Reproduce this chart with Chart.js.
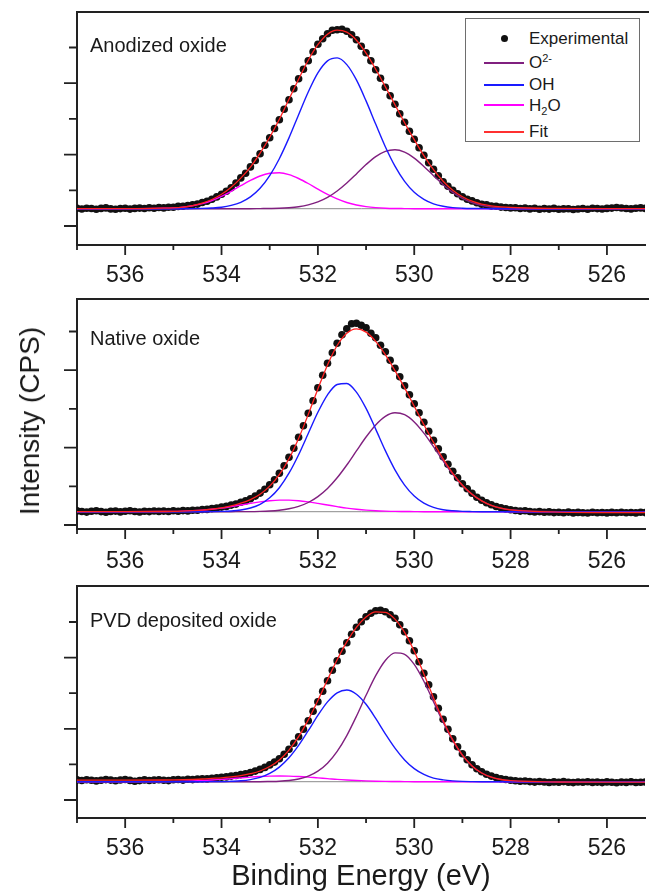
<!DOCTYPE html>
<html>
<head>
<meta charset="utf-8">
<title>O 1s XPS</title>
<script src="https://cdn.jsdelivr.net/npm/chart.js@4.4.0/dist/chart.umd.min.js"></script>
<style>
  body { margin: 0; background: #fff; }
  #wrap { position: relative; width: 649px; height: 893px; overflow: hidden; font-family: "Liberation Sans", Arial, sans-serif; color: #1a1a1a; }
  #wrap canvas { position: absolute; left: 0; }
  #ytitle { position: absolute; left: 30px; top: 421px; transform: translate(-50%, -50%) rotate(-90deg); font-size: 28px; white-space: nowrap; }
  #legendBox { position: absolute; left: 465px; top: 18px; width: 175px; height: 124px; box-sizing: border-box; border: 1.5px solid #6e6e6e; background: #fff; }
  .swatch { position: absolute; left: 484px; width: 40px; height: 1.6px; }
  .dot { position: absolute; left: 501px; top: 35px; width: 7px; height: 7px; border-radius: 50%; background: #111; }
  .ltext { position: absolute; left: 529px; height: 20px; line-height: 20px; font-size: 17px; white-space: nowrap; }
  .ltext sup { font-size: 11px; vertical-align: 6px; line-height: 0; }
  .ltext sub { font-size: 11px; vertical-align: -4px; line-height: 0; }
</style>
</head>
<body>
<div id="wrap">
  <canvas id="anodized" width="649" height="295" style="top:0px"></canvas>
  <canvas id="native" width="649" height="284" style="top:295px"></canvas>
  <canvas id="pvd" width="649" height="314" style="top:579px"></canvas>
  <div id="ytitle">Intensity (CPS)</div>
  <div id="legendBox"></div>
  <div class="dot"></div>
  <div class="ltext" style="top:29px">Experimental</div>
  <div class="swatch" style="top:62px;background:#80207f"></div>
  <div class="ltext" style="top:53px">O<sup>2-</sup></div>
  <div class="swatch" style="top:84px;background:#1a1aff"></div>
  <div class="ltext" style="top:75px">OH</div>
  <div class="swatch" style="top:104px;background:#ff00ff"></div>
  <div class="ltext" style="top:96px">H<sub>2</sub>O</div>
  <div class="swatch" style="top:131px;background:#ff3030"></div>
  <div class="ltext" style="top:122px">Fit</div>
</div>
<script>
// energies (eV) where the fitted envelope and the components are tabulated
const gridEV = [537, 536, 535.2, 535.0, 534.8, 534.6, 534.4, 534.2, 534.0, 533.8, 533.6, 533.4, 533.2, 533.0,
  532.8, 532.6, 532.4, 532.2, 532.0, 531.8, 531.6, 531.4, 531.2, 531.0, 530.8, 530.6, 530.4, 530.2, 530.0,
  529.8, 529.6, 529.4, 529.2, 529.0, 528.8, 528.6, 528.4, 528.2, 528.0, 527, 526, 525];

const xMajor = [536, 534, 532, 530, 528, 526];
const xMinor = [537, 535, 533, 531, 529, 527, 525];

// ---- anodized oxide ----
const anodizedExp = [
  3680, 3600, 3670, 3650, 3580, 3660, 3710, 3610, 3570, 3640,
  3680, 3590, 3660, 3690, 3650, 3720, 3680, 3750, 3710, 3770,
  3780, 3860, 3870, 3950, 4030, 4090, 4250, 4370, 4580, 4810,
  5080, 5380, 5730, 6190, 6710, 7170, 7810, 8450, 9130, 9970,
  10730, 11650, 12530, 13580, 14530, 15630, 16630, 17580, 18430, 19330,
  20080, 20630, 21130, 21480, 21530, 21580, 21380, 21030, 20530, 19880,
  19230, 18430, 17530, 16680, 15780, 14930, 14080, 13130, 12280, 11380,
  10580, 9730, 8980, 8230, 7580, 6930, 6330, 5880, 5480, 5130,
  4830, 4580, 4410, 4230, 4070, 4010, 3890, 3880, 3790, 3750,
  3710, 3730, 3650, 3690, 3610, 3670, 3580, 3640, 3590, 3660,
  3570, 3610, 3630, 3550, 3600, 3650, 3580, 3670, 3640, 3600,
  3660, 3690, 3750, 3700, 3650, 3610, 3670, 3710, 3660
];
const anodizedFit = [3630, 3630, 3680, 3710, 3790, 3940, 4190, 4550, 5070, 5780, 6690, 7780, 9180, 10780,
  12580, 14580, 16580, 18480, 20030, 21080, 21480, 21280, 20480, 19180, 17580, 15830, 14030, 12230, 10530,
  8930, 7530, 6380, 5480, 4830, 4380, 4080, 3910, 3810, 3750, 3660, 3630, 3630];
const anodizedO2 = [3630, 3630, 3630, 3630, 3630, 3630, 3630, 3630, 3630, 3630, 3630, 3630, 3640, 3650,
  3670, 3730, 3830, 4010, 4310, 4760, 5400, 6200, 7110, 8040, 8840, 9370, 9530, 9290, 8690,
  7860, 6930, 6030, 5260, 4660, 4240, 3970, 3800, 3710, 3670, 3630, 3630, 3630];
const anodizedOH = [3630, 3630, 3630, 3630, 3630, 3640, 3660, 3700, 3780, 3960, 4270, 4810, 5670, 6940,
  8630, 10710, 13030, 15300, 17210, 18410, 18710, 18040, 16510, 14410, 12090, 9830, 7890, 6370, 5280,
  4570, 4120, 3870, 3740, 3680, 3650, 3640, 3630, 3630, 3630, 3630, 3630, 3630];
const anodizedH2O = [3630, 3630, 3670, 3710, 3790, 3930, 4140, 4450, 4870, 5370, 5930, 6460, 6900, 7170,
  7220, 7040, 6650, 6150, 5590, 5060, 4610, 4250, 4000, 3840, 3740, 3680, 3650, 3640, 3630,
  3630, 3630, 3630, 3630, 3630, 3630, 3630, 3630, 3630, 3630, 3630, 3630, 3630];
const anodizedBg = [3630, 3630];
const anodizedYTicks = [1900, 5470, 9040, 12610, 16180, 19750];

// ---- native oxide ----
const nativeExp = [
  1810, 1750, 1690, 1780, 1820, 1740, 1680, 1760, 1790, 1710,
  1770, 1820, 1750, 1700, 1780, 1740, 1800, 1760, 1790, 1750,
  1820, 1780, 1840, 1810, 1880, 1870, 1950, 1960, 2040, 2090,
  2190, 2260, 2390, 2490, 2670, 2810, 3030, 3290, 3590, 3980,
  4430, 4930, 5580, 6330, 7180, 8080, 9180, 10330, 11580, 12830,
  14130, 15380, 16580, 17630, 18580, 19430, 20030, 20530, 20580, 20380,
  20130, 19580, 19130, 18380, 17730, 16880, 16080, 15230, 14330, 13430,
  12530, 11630, 10680, 9780, 8880, 8030, 7230, 6480, 5780, 5130,
  4530, 4030, 3580, 3180, 2880, 2630, 2430, 2250, 2130, 2010,
  1930, 1850, 1790, 1820, 1750, 1700, 1740, 1670, 1710, 1640,
  1680, 1630, 1690, 1610, 1660, 1630, 1600, 1670, 1620, 1650,
  1610, 1660, 1630, 1680, 1620, 1650, 1610, 1670, 1640
];
const nativeFit = [1730, 1730, 1750, 1760, 1790, 1830, 1890, 1990, 2120, 2310, 2580, 2940, 3480, 4290,
  5440, 7030, 9060, 11450, 14010, 16410, 18350, 19580, 20020, 19690, 18770, 17440, 15840, 14110, 12280,
  10440, 8660, 7010, 5570, 4380, 3470, 2810, 2360, 2080, 1920, 1690, 1650, 1650];
const nativeO2 = [1730, 1730, 1730, 1730, 1730, 1730, 1730, 1730, 1730, 1730, 1740, 1740, 1760, 1800,
  1880, 2020, 2260, 2650, 3240, 4050, 5120, 6400, 7810, 9200, 10410, 11270, 11620, 11430, 10710,
  9590, 8230, 6810, 5480, 4350, 3460, 2810, 2360, 2080, 1920, 1730, 1730, 1730];
const nativeOH = [1730, 1730, 1730, 1730, 1730, 1730, 1730, 1740, 1760, 1800, 1900, 2100, 2470, 3120,
  4130, 5580, 7430, 9550, 11670, 13420, 14450, 14550, 13690, 12060, 9990, 7840, 5920, 4390, 3290,
  2580, 2160, 1930, 1820, 1760, 1740, 1730, 1730, 1730, 1730, 1730, 1730, 1730];
const nativeH2O = [1730, 1730, 1750, 1760, 1790, 1830, 1890, 1980, 2090, 2240, 2400, 2560, 2710, 2830,
  2890, 2890, 2830, 2710, 2560, 2400, 2240, 2090, 1980, 1890, 1830, 1790, 1760, 1750, 1740,
  1730, 1730, 1730, 1730, 1730, 1730, 1730, 1730, 1730, 1730, 1730, 1730, 1730];
const nativeBg = [1730, 1730];
const nativeYTicks = [400, 4270, 8140, 12010, 15880, 19750];

// ---- PVD deposited oxide ----
const pvdExp = [
  3810, 3750, 3830, 3780, 3710, 3770, 3840, 3790, 3730, 3800,
  3850, 3760, 3670, 3740, 3810, 3750, 3790, 3830, 3770, 3740,
  3820, 3850, 3790, 3870, 3840, 3900, 3930, 3910, 3980, 4020,
  4070, 4110, 4190, 4250, 4340, 4430, 4550, 4690, 4860, 5060,
  5310, 5590, 5930, 6380, 6880, 7480, 8130, 8880, 9730, 10680,
  11630, 12680, 13730, 14780, 15730, 16680, 17530, 18380, 19080, 19630,
  20130, 20480, 20730, 20780, 20630, 20330, 19980, 19330, 18630, 17730,
  16730, 15630, 14480, 13330, 12130, 10980, 9880, 8880, 7930, 7130,
  6430, 5830, 5330, 4930, 4630, 4380, 4190, 4050, 3930, 3850,
  3780, 3730, 3670, 3700, 3640, 3590, 3650, 3600, 3550, 3610,
  3570, 3640, 3580, 3540, 3600, 3570, 3630, 3560, 3590, 3540,
  3610, 3570, 3530, 3590, 3560, 3620, 3550, 3580, 3600
];
const pvdFit = [3780, 3780, 3800, 3810, 3830, 3860, 3900, 3960, 4020, 4120, 4240, 4430, 4700, 5150,
  5810, 6790, 8130, 9810, 11750, 13820, 15820, 17610, 19060, 20100, 20610, 20570, 19890, 18560, 16670,
  14410, 12020, 9750, 7810, 6290, 5210, 4500, 4080, 3850, 3730, 3600, 3580, 3580];
const pvdO2 = [3630, 3630, 3630, 3630, 3630, 3630, 3630, 3630, 3630, 3630, 3630, 3630, 3630, 3650,
  3680, 3750, 3900, 4180, 4680, 5480, 6660, 8240, 10170, 12270, 14230, 15750, 16510, 16370, 15360,
  13680, 11640, 9570, 7730, 6260, 5200, 4500, 4080, 3850, 3730, 3630, 3630, 3630];
const pvdOH = [3630, 3630, 3630, 3630, 3630, 3630, 3630, 3640, 3640, 3670, 3720, 3840, 4060, 4460,
  5090, 6020, 7260, 8730, 10260, 11610, 12520, 12800, 12380, 11370, 9960, 8420, 6990, 5810, 4940,
  4360, 3990, 3810, 3710, 3660, 3640, 3630, 3630, 3630, 3630, 3630, 3630, 3630];
const pvdH2O = [3630, 3630, 3650, 3660, 3680, 3710, 3750, 3800, 3860, 3940, 4010, 4090, 4150, 4190,
  4200, 4190, 4150, 4090, 4010, 3940, 3860, 3800, 3750, 3710, 3680, 3660, 3650, 3640, 3630,
  3630, 3630, 3630, 3630, 3630, 3630, 3630, 3630, 3630, 3630, 3630, 3630, 3630];
const pvdBg = [3630, 3630];
const pvdYTicks = [1800, 5360, 8920, 12480, 16040, 19600];

// scan runs from 537.0 eV downwards in 0.1 eV steps
const scanEV = anodizedExp.map((_, i) => +(537 - 0.1 * i).toFixed(1));

const colours = {o2: '#80207f', oh: '#1a1aff', h2o: '#ff00ff', fit: '#ff2020', bg: '#8c8c8c', exp: '#111'};
const font = '"Liberation Sans", Arial, sans-serif';

function pts(xs, ys) {
  return ys.map((v, i) => ({x: xs[i], y: v}));
}

// top frame line, outward tick marks and the panel caption
const frameTicks = {
  id: 'frameTicks',
  afterDraw(chart, args, opts) {
    const {ctx, chartArea: a, scales: {x, y}} = chart;
    ctx.save();
    ctx.strokeStyle = '#222';
    ctx.lineWidth = 1.8;
    ctx.beginPath();
    ctx.moveTo(a.left, a.top);
    ctx.lineTo(chart.width, a.top);
    opts.yTicks.forEach((v, i) => {
      const py = y.getPixelForValue(v);
      const len = i % 2 === 0 ? 13 : 8;
      ctx.moveTo(a.left - len, py);
      ctx.lineTo(a.left, py);
    });
    xMajor.forEach(v => {
      const px = x.getPixelForValue(v);
      ctx.moveTo(px, a.bottom);
      ctx.lineTo(px, a.bottom + 10);
    });
    xMinor.forEach(v => {
      const px = x.getPixelForValue(v);
      ctx.moveTo(px, a.bottom);
      ctx.lineTo(px, a.bottom + 5);
    });
    ctx.stroke();
    ctx.fillStyle = '#1a1a1a';
    ctx.font = '20px ' + font;
    ctx.textBaseline = 'alphabetic';
    ctx.fillText(opts.label, a.left + 13, a.top + opts.labelDy);
    ctx.restore();
  }
};

function makePanel(id, p) {
  const line = (data, colour, width) => ({
    data: pts(gridEV, data), borderColor: colour, borderWidth: width,
    pointRadius: 0, cubicInterpolationMode: 'monotone', fill: false
  });
  const datasets = [
    line(p.fit, colours.fit, 1.3),
    line(p.oh, colours.oh, 1.4),
    line(p.o2, colours.o2, 1.4),
    line(p.h2o, colours.h2o, 1.4),
    {data: pts([537, 525], p.bg), borderColor: colours.bg, borderWidth: 1, pointRadius: 0},
    {data: pts(scanEV, p.exp), showLine: false, pointRadius: 3.8, pointBorderWidth: 0,
      pointBackgroundColor: colours.exp, backgroundColor: colours.exp}
  ];

  return new Chart(document.getElementById(id), {
    type: 'line',
    data: {datasets: datasets},
    options: {
      responsive: false,
      animation: false,
      events: [],
      layout: {padding: {top: p.padTop, left: 0, right: 0, bottom: 0}},
      plugins: {
        legend: {display: false},
        tooltip: {enabled: false},
        frameTicks: {yTicks: p.yTicks, label: p.label, labelDy: p.labelDy}
      },
      scales: {
        x: {
          type: 'linear', reverse: true, min: 525.21, max: 537,
          afterBuildTicks: s => { s.ticks = xMajor.map(v => ({value: v})); },
          afterFit: s => { s.height = p.xHeight; },
          grid: {display: false, drawTicks: false},
          border: {display: true, color: '#222', width: 2},
          ticks: {
            autoSkip: false, maxRotation: 0, padding: p.labelPad, color: '#1a1a1a',
            font: {family: font, size: 23},
            callback: v => String(v)
          },
          title: p.xTitle ? {
            display: true, text: p.xTitle, color: '#1a1a1a',
            font: {family: font, size: 29, lineHeight: 1.1}, padding: 0
          } : {display: false}
        },
        y: {
          min: 0, max: p.yMax,
          afterBuildTicks: s => { s.ticks = p.yTicks.map(v => ({value: v})); },
          afterFit: s => { s.width = 77; },
          grid: {display: false, drawTicks: false},
          border: {display: true, color: '#222', width: 2},
          ticks: {display: false}
        }
      }
    },
    plugins: [frameTicks]
  });
}

makePanel('anodized', {
  exp: anodizedExp, fit: anodizedFit, o2: anodizedO2, oh: anodizedOH, h2o: anodizedH2O, bg: anodizedBg,
  yTicks: anodizedYTicks, yMax: 23300, padTop: 12, xHeight: 50, labelPad: 17,
  label: 'Anodized oxide', labelDy: 40
});
makePanel('native', {
  exp: nativeExp, fit: nativeFit, o2: nativeO2, oh: nativeOH, h2o: nativeH2O, bg: nativeBg,
  yTicks: nativeYTicks, yMax: 23000, padTop: 4, xHeight: 50, labelPad: 19,
  label: 'Native oxide', labelDy: 45.5
});
makePanel('pvd', {
  exp: pvdExp, fit: pvdFit, o2: pvdO2, oh: pvdOH, h2o: pvdH2O, bg: pvdBg,
  yTicks: pvdYTicks, yMax: 23200, padTop: 7, xHeight: 75, labelPad: 17,
  label: 'PVD deposited oxide', labelDy: 41, xTitle: 'Binding Energy (eV)'
});
</script>
</body>
</html>
